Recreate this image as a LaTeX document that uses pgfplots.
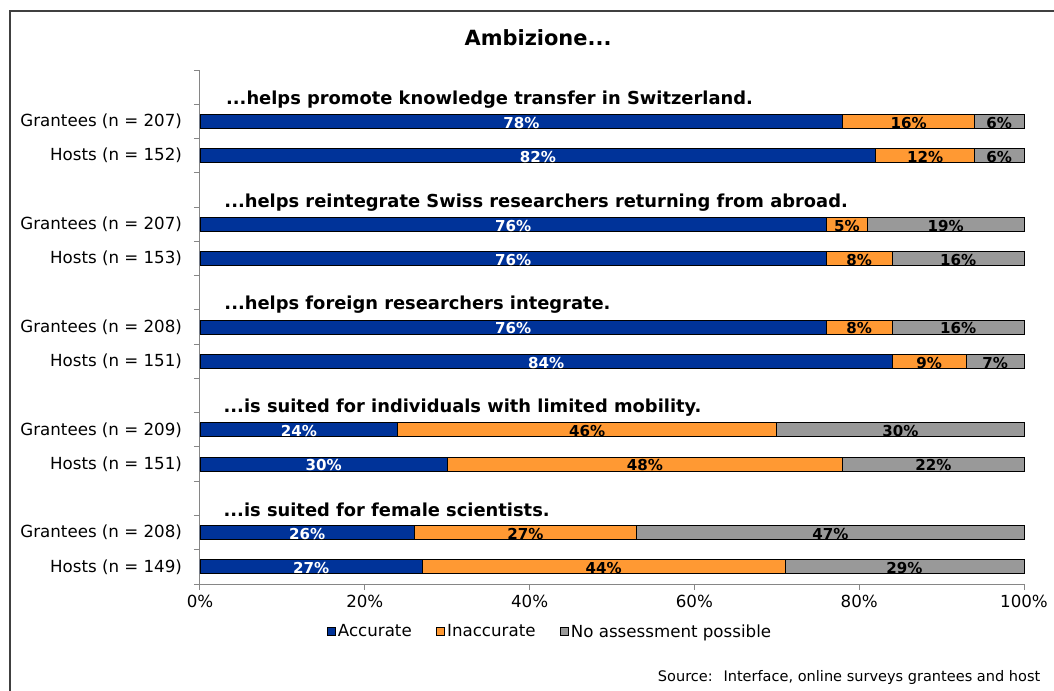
\documentclass[border=0pt]{standalone}
\usepackage{fontspec}
\setmainfont{DejaVu Sans}
\usepackage{pgfplots}
\usepackage{pgfplotstable}
\pgfplotsset{compat=1.18}
\definecolor{acc}{HTML}{003399}
\definecolor{inacc}{HTML}{FF9933}
\definecolor{nas}{HTML}{999999}
\definecolor{axgray}{HTML}{868686}
\newcommand{\fs}[1]{\fontsize{#1}{#1}\selectfont}

\pgfplotstableread{
row acc inacc none
13 78 16 6
12 82 12 6
10 76 5 19
9 76 8 16
7 76 8 16
6 84 9 7
4 24 46 30
3 30 48 22
1 26 27 47
0 27 44 29
}\data

\begin{document}
\begin{tikzpicture}
\useasboundingbox (0pt,0pt) rectangle (790.5pt,-517.5pt);
\draw[line width=1.5pt, black!75] (7.5pt,-8.25pt) rectangle (830pt,-560pt);
\node[font=\bfseries\fs{15.7}, anchor=base] at (403.5pt,-33.75pt) {Ambizione...};
\begin{axis}[
  at={(150pt,-438pt)}, anchor=south west,
  scale only axis, width=618pt, height=385.5pt,
  xmin=0, xmax=100, ymin=-0.5, ymax=14.5,
  xbar stacked, bar width=10.5pt,
  axis x line*=bottom, axis y line*=left,
  axis line style={axgray, line width=0.75pt, -},
  every outer x axis line/.append style={-},
  every outer y axis line/.append style={-},
  tick align=outside,
  xtick={0,20,40,60,80,100},
  xticklabels={0\%,20\%,40\%,60\%,80\%,100\%},
  x tick style={axgray, line width=0.75pt},
  major tick length=4.5pt,
  ytick={0,1,3,4,6,7,9,10,12,13},
  yticklabels={Hosts (n = 149), Grantees (n = 208), Hosts (n = 151), Grantees (n = 209), Hosts (n = 151), Grantees (n = 208), Hosts (n = 153), Grantees (n = 207), Hosts (n = 152), Grantees (n = 207)},
  y tick style={draw=none},
  yticklabel style={xshift=-5.5pt},
  extra y ticks={-0.5,0.5,...,14.5},
  extra y tick labels={},
  extra y tick style={y tick style={draw=axgray, line width=0.75pt}},
  tick label style={font=\fs{12.5}},
  point meta=explicit,
  nodes near coords={\pgfmathprintnumber{\pgfplotspointmeta}\%},
  nodes near coords align=center,
  every node near coord/.append style={font=\bfseries\fs{11.3}, yshift=-1pt},
  /pgf/number format/assume math mode=true,
  legend style={draw=none, at={(0.425,-0.093)}, anchor=center, legend columns=3, font=\fs{12.5},
    /tikz/every even column/.append style={column sep=16pt}, inner sep=0pt},
  legend image code/.code={\draw[#1,draw=black,line width=0.5pt] (0pt,-3pt) rectangle (6pt,3pt);},
  clip=false,
]
\addplot[fill=acc, draw=black, line width=0.6pt, every node near coord/.append style={text=white}] table[x=acc,y=row,meta=acc]{\data};
\addplot[fill=inacc, draw=black, line width=0.6pt, every node near coord/.append style={text=black}] table[x=inacc,y=row,meta=inacc]{\data};
\addplot[fill=nas, draw=black, line width=0.6pt, every node near coord/.append style={text=black}] table[x=none,y=row,meta=none]{\data};
\legend{Accurate, Inaccurate, No assessment possible}
\node[anchor=base west, font=\bfseries\fs{13.4}] at (axis cs:2.6,13.48) {...helps promote knowledge transfer in Switzerland.};
\node[anchor=base west, font=\bfseries\fs{13.4}] at (axis cs:2.4,10.5) {...helps reintegrate Swiss researchers returning from abroad.};
\node[anchor=base west, font=\bfseries\fs{13.4}] at (axis cs:2.4,7.5) {...helps foreign researchers integrate.};
\node[anchor=base west, font=\bfseries\fs{13.4}] at (axis cs:2.3,4.5) {...is suited for individuals with limited mobility.};
\node[anchor=base west, font=\bfseries\fs{13.4}] at (axis cs:2.3,1.48) {...is suited for female scientists.};
\end{axis}
\node[anchor=base east, font=\fs{10.9}] at (783.75pt,-510.75pt) {Source:~ Interface, online surveys grantees and host};
\end{tikzpicture}
\end{document}
